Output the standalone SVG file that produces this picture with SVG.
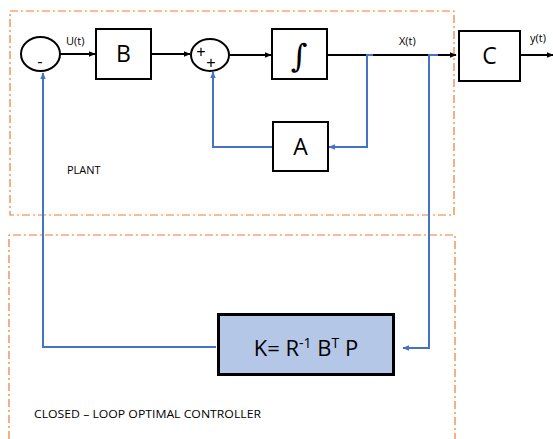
<svg xmlns="http://www.w3.org/2000/svg" width="553" height="439" viewBox="0 0 553 439">
<defs>
<marker id="ab" viewBox="0 0 10 10" refX="9" refY="5" markerWidth="7" markerHeight="7" markerUnits="userSpaceOnUse" orient="auto"><path d="M0,1 L10,5 L0,9 z" fill="#000"/></marker>
<marker id="au" viewBox="0 0 10 10" refX="9" refY="5" markerWidth="7" markerHeight="7" markerUnits="userSpaceOnUse" orient="auto"><path d="M0,1 L10,5 L0,9 z" fill="#4472C4"/></marker>
</defs>
<style>
.frame{fill:none;stroke:#ED7D31;stroke-width:1.2;stroke-dasharray:8 3 2 3}
.blk{fill:none;stroke:#000;stroke-width:2}
.box{fill:#fff;stroke:#000;stroke-width:2}
.blue{fill:none;stroke:#4472C4;stroke-width:2}
.lbl{font-family:"Open Sans","Liberation Sans",Arial,sans-serif;font-size:11px;fill:#000}
.sign{font-family:"Liberation Sans",Arial,sans-serif;font-size:16px;fill:#000;text-anchor:middle}
.big{font-family:"Open Sans","Liberation Sans",Arial,sans-serif;font-size:23px;fill:#000;text-anchor:middle}
</style>
<rect width="553" height="439" fill="#fff"/>
<g id="plant-frame">
<rect class="frame" x="10" y="11" width="444" height="204"/>
<text class="lbl" x="67" y="174">PLANT</text>
</g>
<g id="controller-frame">
<path class="frame" d="M9,439 V235 H455 V439"/>
<text class="lbl" x="34" y="418" textLength="227" lengthAdjust="spacingAndGlyphs">CLOSED – LOOP OPTIMAL CONTROLLER</text>
</g>
<g id="connectors">
<path class="blk" d="M60,54 H95" marker-end="url(#ab)"/>
<path class="blk" d="M151,54 H190" marker-end="url(#ab)"/>
<path class="blk" d="M230,55 H271" marker-end="url(#ab)"/>
<path class="blk" d="M327,55 H456" marker-end="url(#ab)"/>
<path class="blk" d="M520,55 H553" marker-end="url(#ab)"/>
<path class="blue" d="M373,55 H367 V147 H329" marker-end="url(#au)"/>
<path class="blue" d="M273,147 H213 V72" marker-end="url(#au)"/>
<path class="blue" d="M438,55 H429 V348 H403" marker-end="url(#au)"/>
<path class="blue" d="M216,347 H43 V73" marker-end="url(#au)"/>
<text class="lbl" x="66" y="45">U(t)</text>
<text class="lbl" x="399" y="45">X(t)</text>
<text class="lbl" x="530" y="42">y(t)</text>
</g>
<g id="minus">
<ellipse class="box" cx="40.5" cy="54" rx="19.5" ry="17"/>
<text class="sign" x="40" y="67">-</text>
</g>
<g id="sum">
<ellipse class="box" cx="210" cy="55" rx="19" ry="16"/>
<text class="sign" x="201" y="57">+</text>
<text class="sign" x="211" y="68">+</text>
</g>
<g id="B">
<rect class="box" x="96" y="29" width="55" height="50"/>
<text class="big" x="123.5" y="62">B</text>
</g>
<g id="integrator">
<rect class="box" x="272" y="29" width="55" height="50"/>
<text x="299" y="67" style="font-family:'DejaVu Serif',serif;font-size:32px;text-anchor:middle;fill:#000">∫</text>
</g>
<g id="A">
<rect class="box" x="273" y="122" width="55" height="49"/>
<text class="big" x="300.5" y="155">A</text>
</g>
<g id="C">
<rect class="box" x="459" y="31" width="61" height="50"/>
<text class="big" x="489.5" y="64">C</text>
</g>
<g id="K">
<rect x="218.5" y="314.5" width="175" height="60" fill="#B4C7E7" stroke="#000" stroke-width="3"/>
<text class="big" x="306" y="356" style="font-size:22px">K= R<tspan style="font-size:14px" dy="-8">-1</tspan><tspan dy="8"> B</tspan><tspan style="font-size:14px" dy="-8">T</tspan><tspan dy="8"> P</tspan></text>
</g>
</svg>
